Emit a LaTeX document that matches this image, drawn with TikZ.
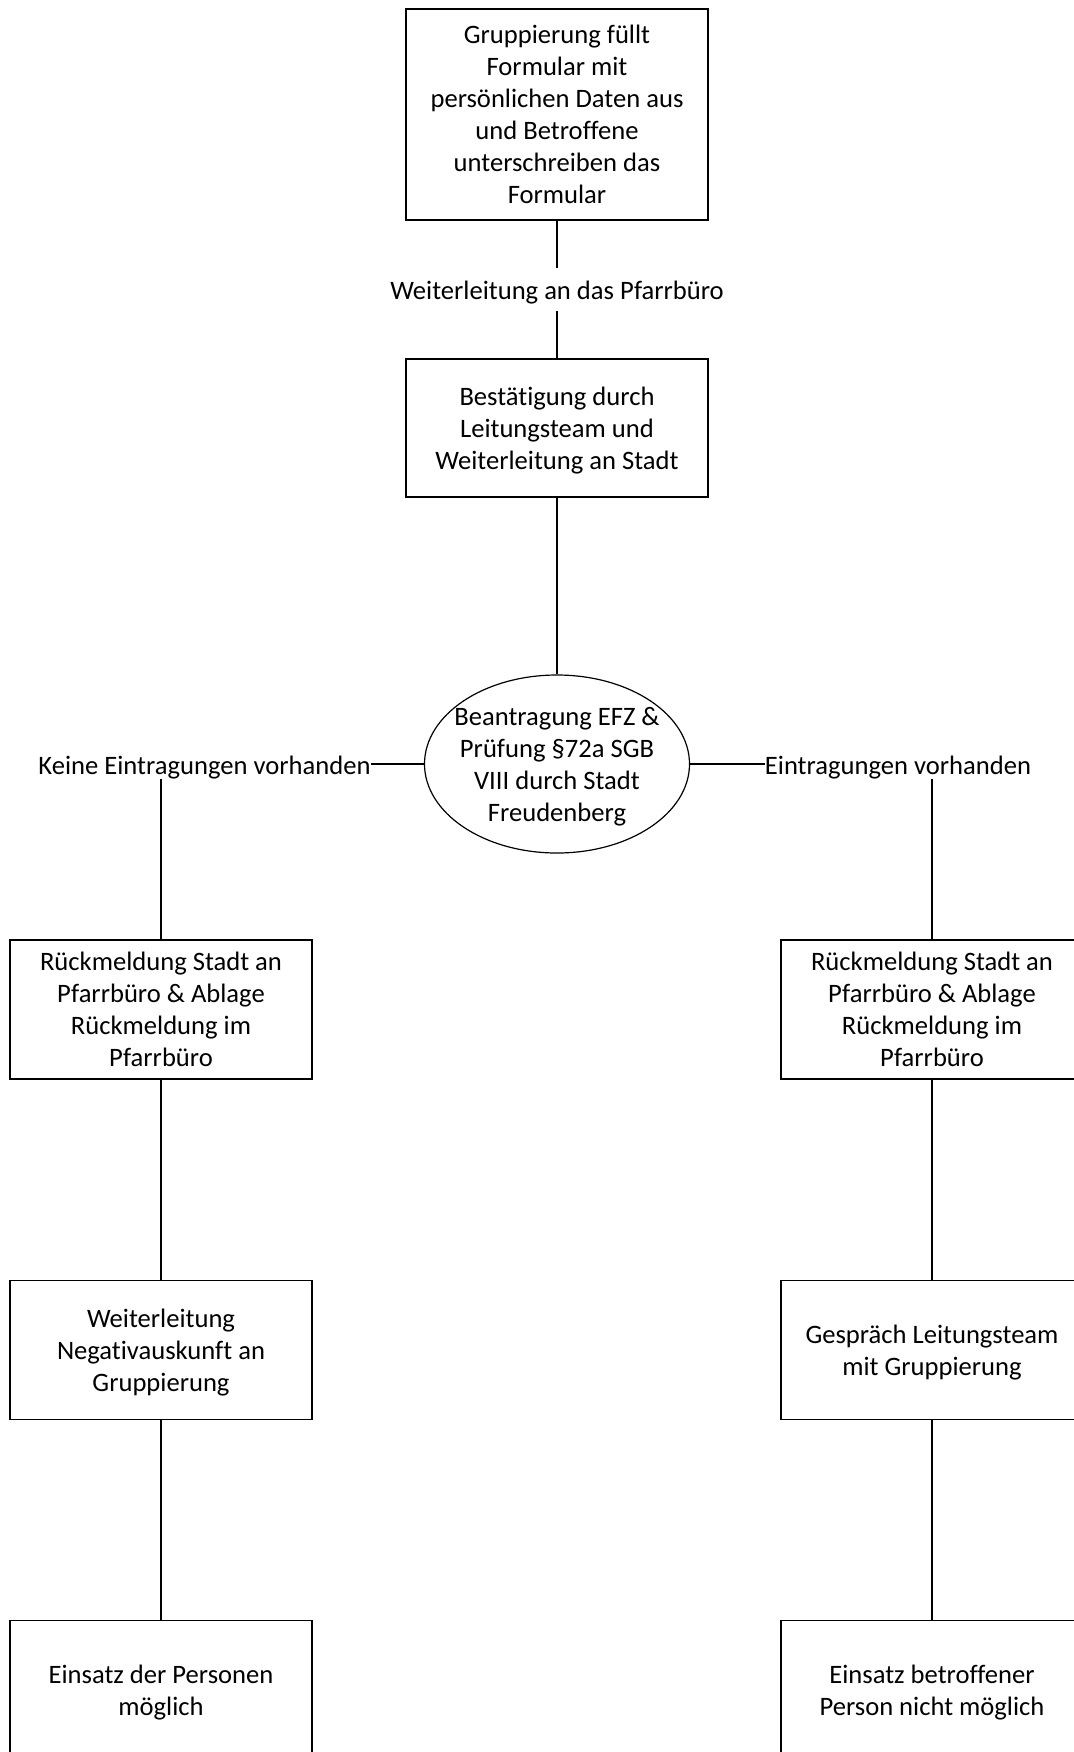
\documentclass[tikz,border=0pt]{standalone}
\usepackage{fontspec}
\setmainfont[RawFeature=-liga]{Carlito}
\usetikzlibrary{shapes.geometric}
\newcommand\nd[1]{\raisebox{0pt}[\height][0pt]{#1}}
\begin{document}
\begin{tikzpicture}[x=0.5pt,y=-0.5pt,
  font=\fontsize{13.3}{16}\selectfont,
  every node/.style={align=center},
  stepbox/.style={draw, line width=0.6pt, minimum width=151pt, inner sep=0pt},
  decision/.style={draw, line width=0.6pt, ellipse, minimum width=132.5pt, minimum height=89pt, inner xsep=-5pt, inner ysep=0pt},
  lbl/.style={inner xsep=0pt, inner ysep=3pt},
  conn/.style={line width=0.6pt}]
\clip (0,0) rectangle (1074,1752);
\fill[white] (0,0) rectangle (1074,1752);

\node[stepbox, minimum height=105.5pt] (b1) at (557,114.5) {Gruppierung füllt\\Formular mit\\persönlichen Daten aus\\und Betroffene\\unterschreiben das\\\nd{Formular}};
\node[lbl] (w1) at (557,292.4) {Weiterleitung an das Pfarrbüro};
\node[stepbox, minimum height=69pt] (b2) at (557,428) {Bestätigung durch\\Leitungsteam und\\\nd{Weiterleitung an Stadt}};
\node[decision] (e) at (557,764) {Beantragung EFZ \&\\Prüfung §72a SGB\\VIII durch Stadt\\\nd{Freudenberg}};
\node[lbl] (kl) at (204.5,767.4) {Keine Eintragungen vorhanden};
\node[lbl] (kr) at (898,767.4) {Eintragungen vorhanden};

\node[stepbox, minimum height=69.5pt] (l1) at (161,1009.5) {Rückmeldung Stadt an\\Pfarrbüro \& Ablage\\Rückmeldung im\\\nd{Pfarrbüro}};
\node[stepbox, minimum height=69.5pt] (l2) at (161,1350) {Weiterleitung\\Negativauskunft an\\\nd{Gruppierung}};
\node[stepbox, minimum height=69.5pt] (l3) at (161,1690) {Einsatz der Personen\\\nd{möglich}};

\node[stepbox, minimum height=69.5pt] (r1) at (932,1009.5) {Rückmeldung Stadt an\\Pfarrbüro \& Ablage\\Rückmeldung im\\\nd{Pfarrbüro}};
\node[stepbox, minimum height=69.5pt] (r2) at (932,1350) {Gespräch Leitungsteam\\\nd{mit Gruppierung}};
\node[stepbox, minimum height=69.5pt] (r3) at (932,1690) {Einsatz betroffener\\\nd{Person nicht möglich}};

\coordinate (w1top) at ([yshift=12.2pt]w1.center);
\coordinate (w1bot) at ([yshift=-9.3pt]w1.center);
\coordinate (klbot) at ([yshift=-5.8pt]kl.center);
\coordinate (krbot) at ([yshift=-5.8pt]kr.center);

\draw[conn] (b1.south) -- (b1.south |- w1top);
\draw[conn] (b2.north |- w1bot) -- (b2.north);
\draw[conn] (b2.south) -- (e.north);
\draw[conn] (e.west) -- (e.west -| kl.east);
\draw[conn] (e.east) -- (e.east -| kr.west);
\draw[conn] (l1.north |- klbot) -- (l1.north);
\draw[conn] (r1.north |- krbot) -- (r1.north);
\draw[conn] (l1.south) -- (l2.north);
\draw[conn] (l2.south) -- (l3.north);
\draw[conn] (r1.south) -- (r2.north);
\draw[conn] (r2.south) -- (r3.north);
\end{tikzpicture}
\end{document}
